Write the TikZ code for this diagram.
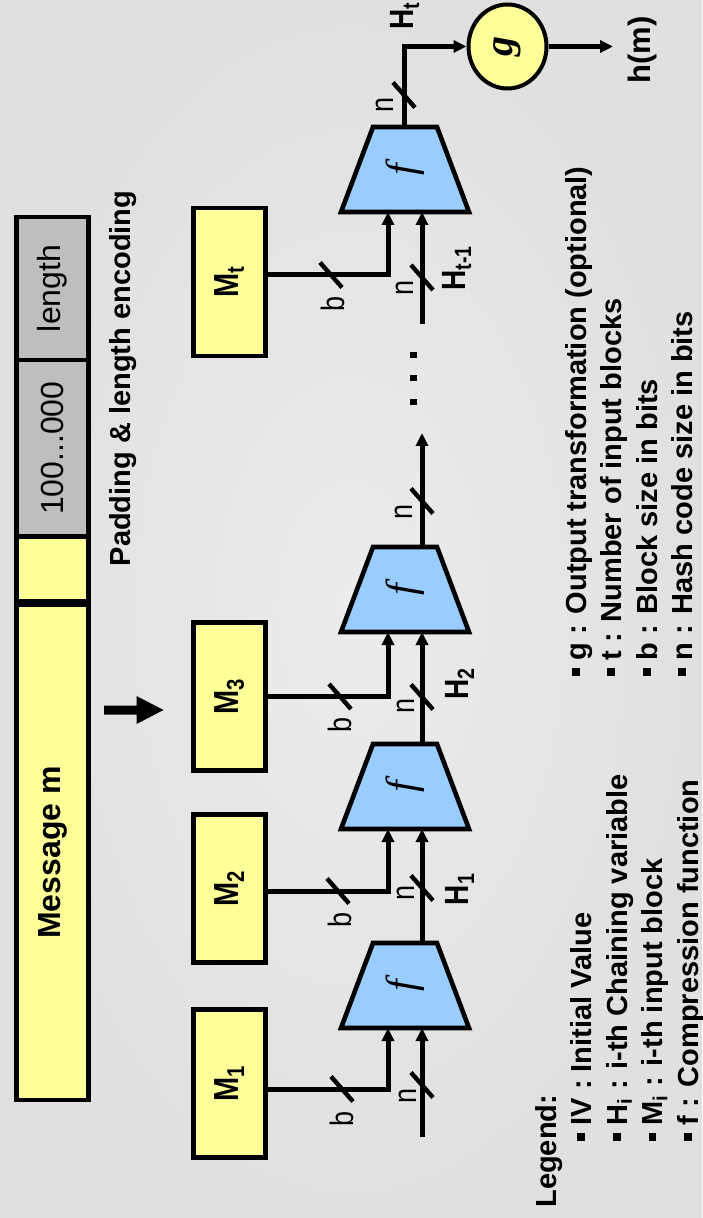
\documentclass[tikz,border=0pt]{standalone}
\usepackage{fontspec}
\setmainfont{Liberation Sans}
\newfontfamily\serifface{Liberation Serif}
\usetikzlibrary{arrows.meta,shapes.geometric}

\definecolor{paper}{RGB}{224,224,224}
\definecolor{paperhi}{RGB}{236,236,236}
\definecolor{blockyellow}{RGB}{255,255,153}
\definecolor{padgray}{RGB}{190,190,190}
\definecolor{fblue}{RGB}{153,204,255}

\newcommand\fs[1]{\fontsize{#1}{#1}\selectfont}
\newcommand\sqbullet{\rule[3.2pt]{3.6pt}{3.6pt}\hspace{4pt}}

% one compression stage: name, position of the wide (input) side
\newcommand\compbox[2]{%
  \draw[trap] (341,#2) -- (469,#2) -- (437,#2-85) -- (373,#2-85) -- cycle;
  \node[flabel] (#1) at (405,#2-42.5) {f};
  \coordinate (#1-b) at (388,#2);
  \coordinate (#1-c) at (422,#2);
  \coordinate (#1-o) at (422,#2-85);
}
% width marker across a bus line
\newcommand\slashat[2]{\draw[slash] (#1,#2) +(-11,-12.5) -- +(11,12.5);}

\tikzset{
  tall/.style={yscale=1.2},
  seg/.style={draw, line width=2.3pt, rotate=90, minimum height=36.25pt, inner sep=0pt},
  mbox/.style={draw, fill=blockyellow, line width=2.3pt, rotate=90, tall, minimum width=74pt,
               minimum height=30pt, inner sep=0pt, font=\fs{14.5pt}\bfseries},
  trap/.style={draw, fill=fblue, line width=2.3pt, line join=miter},
  flabel/.style={rotate=90, inner sep=0pt, font=\serifface\itshape\fs{21pt}},
  gcirc/.style={ellipse, draw, fill=blockyellow, line width=2pt, rotate=90, minimum width=42pt,
                minimum height=39pt, inner sep=0pt, font=\serifface\bfseries\itshape\fs{20pt}},
  conn/.style={line width=2.5pt},
  arr/.style={conn, -{Triangle[length=6.5pt,width=6pt]}},
  slash/.style={line width=2.2pt},
  thinlbl/.style={rotate=90, tall, inner sep=0pt, font=\fs{13.5pt}},
  boldlbl/.style={rotate=90, inner sep=0pt, font=\fs{14pt}\bfseries},
  legendline/.style={rotate=90, inner sep=0pt, anchor=base west, font=\fs{14.5pt}\bfseries},
  dotsq/.style={fill=black, inner sep=0pt, minimum size=3.2pt},
}

\begin{document}
\begin{tikzpicture}[x=0.5pt, y={(0pt,-0.5pt)}]
\useasboundingbox (0,0) rectangle (702,1218);
\shade[inner color=paperhi, outer color=paper] (0,0) rectangle (702,1218);

% padded message
\node[seg, fill=padgray, minimum width=71.5pt, font=\fs{16pt}] (len) at (52.5,288.5) {length};
\node[seg, fill=padgray, minimum width=88.25pt, font=\fs{16pt}] (pad) at (52.5,448.25) {100...000};
\node[seg, fill=blockyellow, minimum width=34.25pt] (one) at (52.5,570.75) {};
\node[seg, fill=blockyellow, minimum width=247.5pt, font=\fs{16pt}\bfseries] (msg) at (52.5,852.5) {Message m};
\draw[line width=4.2pt] (msg.north east) -- (msg.south east);

\node[boldlbl, font=\fs{14.5pt}\bfseries] (padlbl) at (123,378.5) {Padding \& length encoding};
\fill (104,705.5) -- (136.5,705.5) -- (136.5,696) -- (163.5,710) -- (136.5,724)
      -- (136.5,714.5) -- (104,714.5) -- cycle;

% message blocks
\node[mbox] (M1) at (229.5,1083.5) {M\textsubscript{1}};
\node[mbox] (M2) at (229.5,888.5) {M\textsubscript{2}};
\node[mbox] (M3) at (229.5,696.5) {M\textsubscript{3}};
\node[mbox] (Mt) at (229.5,282) {M\textsubscript{t}};

% compression functions
\compbox{f1}{1028}
\compbox{f2}{829}
\compbox{f3}{632}
\compbox{ft}{212}
\coordinate (ft-out) at (404,128);

\node[gcirc] (g) at (507.5,46.5) {g};

% chaining path
\coordinate (iv) at (422,1137);
\coordinate (chainend) at (422,433);
\coordinate (chainres) at (422,324);
\coordinate (hmend) at (613,46.5);

\draw[arr] (iv) -- (f1-c);
\draw[arr] ([yshift=-2.75pt]M1.south) -| (f1-b);
\draw[arr] (f1-o) -- (f2-c);
\draw[arr] ([yshift=-1.25pt]M2.south) -| (f2-b);
\draw[arr] (f2-o) -- (f3-c);
\draw[arr] (M3.south) -| (f3-b);
\draw[arr] (f3-o) -- (chainend);
\draw[arr] (chainres) -- (ft-c);
\draw[arr] ([yshift=3.5pt]Mt.south) -| (ft-b);
\draw[arr] (ft-out) |- (g.north);
\draw[arr] (g.south) -- (hmend);

\node[dotsq] (dot1) at (413.5,355) {};
\node[dotsq] (dot2) at (413.5,378) {};
\node[dotsq] (dot3) at (413.5,402) {};

% bus widths
\slashat{342}{1089}
\slashat{338}{891}
\slashat{340}{696.5}
\slashat{331}{275}
\slashat{422}{1085}
\slashat{422}{888}
\slashat{422}{697}
\slashat{422}{501}
\slashat{422}{277.5}
\slashat{404}{95}

\node[thinlbl] (bw1) at (342,1119) {b};
\node[thinlbl] (bw2) at (340,920) {b};
\node[thinlbl] (bw3) at (340,725) {b};
\node[thinlbl] (bwt) at (333,304) {b};
\node[thinlbl] (nw0) at (408,1096) {n};
\node[thinlbl] (nw1) at (406,893) {n};
\node[thinlbl] (nw2) at (406,706) {n};
\node[thinlbl] (nw3) at (404,512) {n};
\node[thinlbl] (nwt) at (405,287.5) {n};
\node[thinlbl] (nwo) at (385,105) {n};

\node[boldlbl, tall] (H1) at (460,889) {H\textsubscript{1}};
\node[boldlbl, tall] (H2) at (460,683.5) {H\textsubscript{2}};
\node[boldlbl, tall] (Htm) at (457,268) {H\textsubscript{t-1}};
\node[boldlbl, tall, anchor=east] (Ht) at (405,1.5) {H\textsubscript{t}};

\node[boldlbl, font=\fs{15.5pt}\bfseries] (hm) at (642.5,50) {h(m)};

% legend
\node[legendline] (leg) at (556,1208) {Legend:};
\node[legendline] (l1) at (591,1141) {\sqbullet IV : Initial Value};
\node[legendline] (l2) at (627,1141) {\sqbullet H\textsubscript{i} : i-th Chaining variable};
\node[legendline] (l3) at (662.5,1141) {\sqbullet M\textsubscript{i} : i-th input block};
\node[legendline] (l4) at (698,1141) {\sqbullet f : Compression function};
\node[legendline] (r1) at (586,676) {\sqbullet g : Output transformation (optional)};
\node[legendline] (r2) at (621,676) {\sqbullet t : Number of input blocks};
\node[legendline] (r3) at (657,676) {\sqbullet b : Block size in bits};
\node[legendline] (r4) at (692,676) {\sqbullet n : Hash code size in bits};
\end{tikzpicture}
\end{document}
